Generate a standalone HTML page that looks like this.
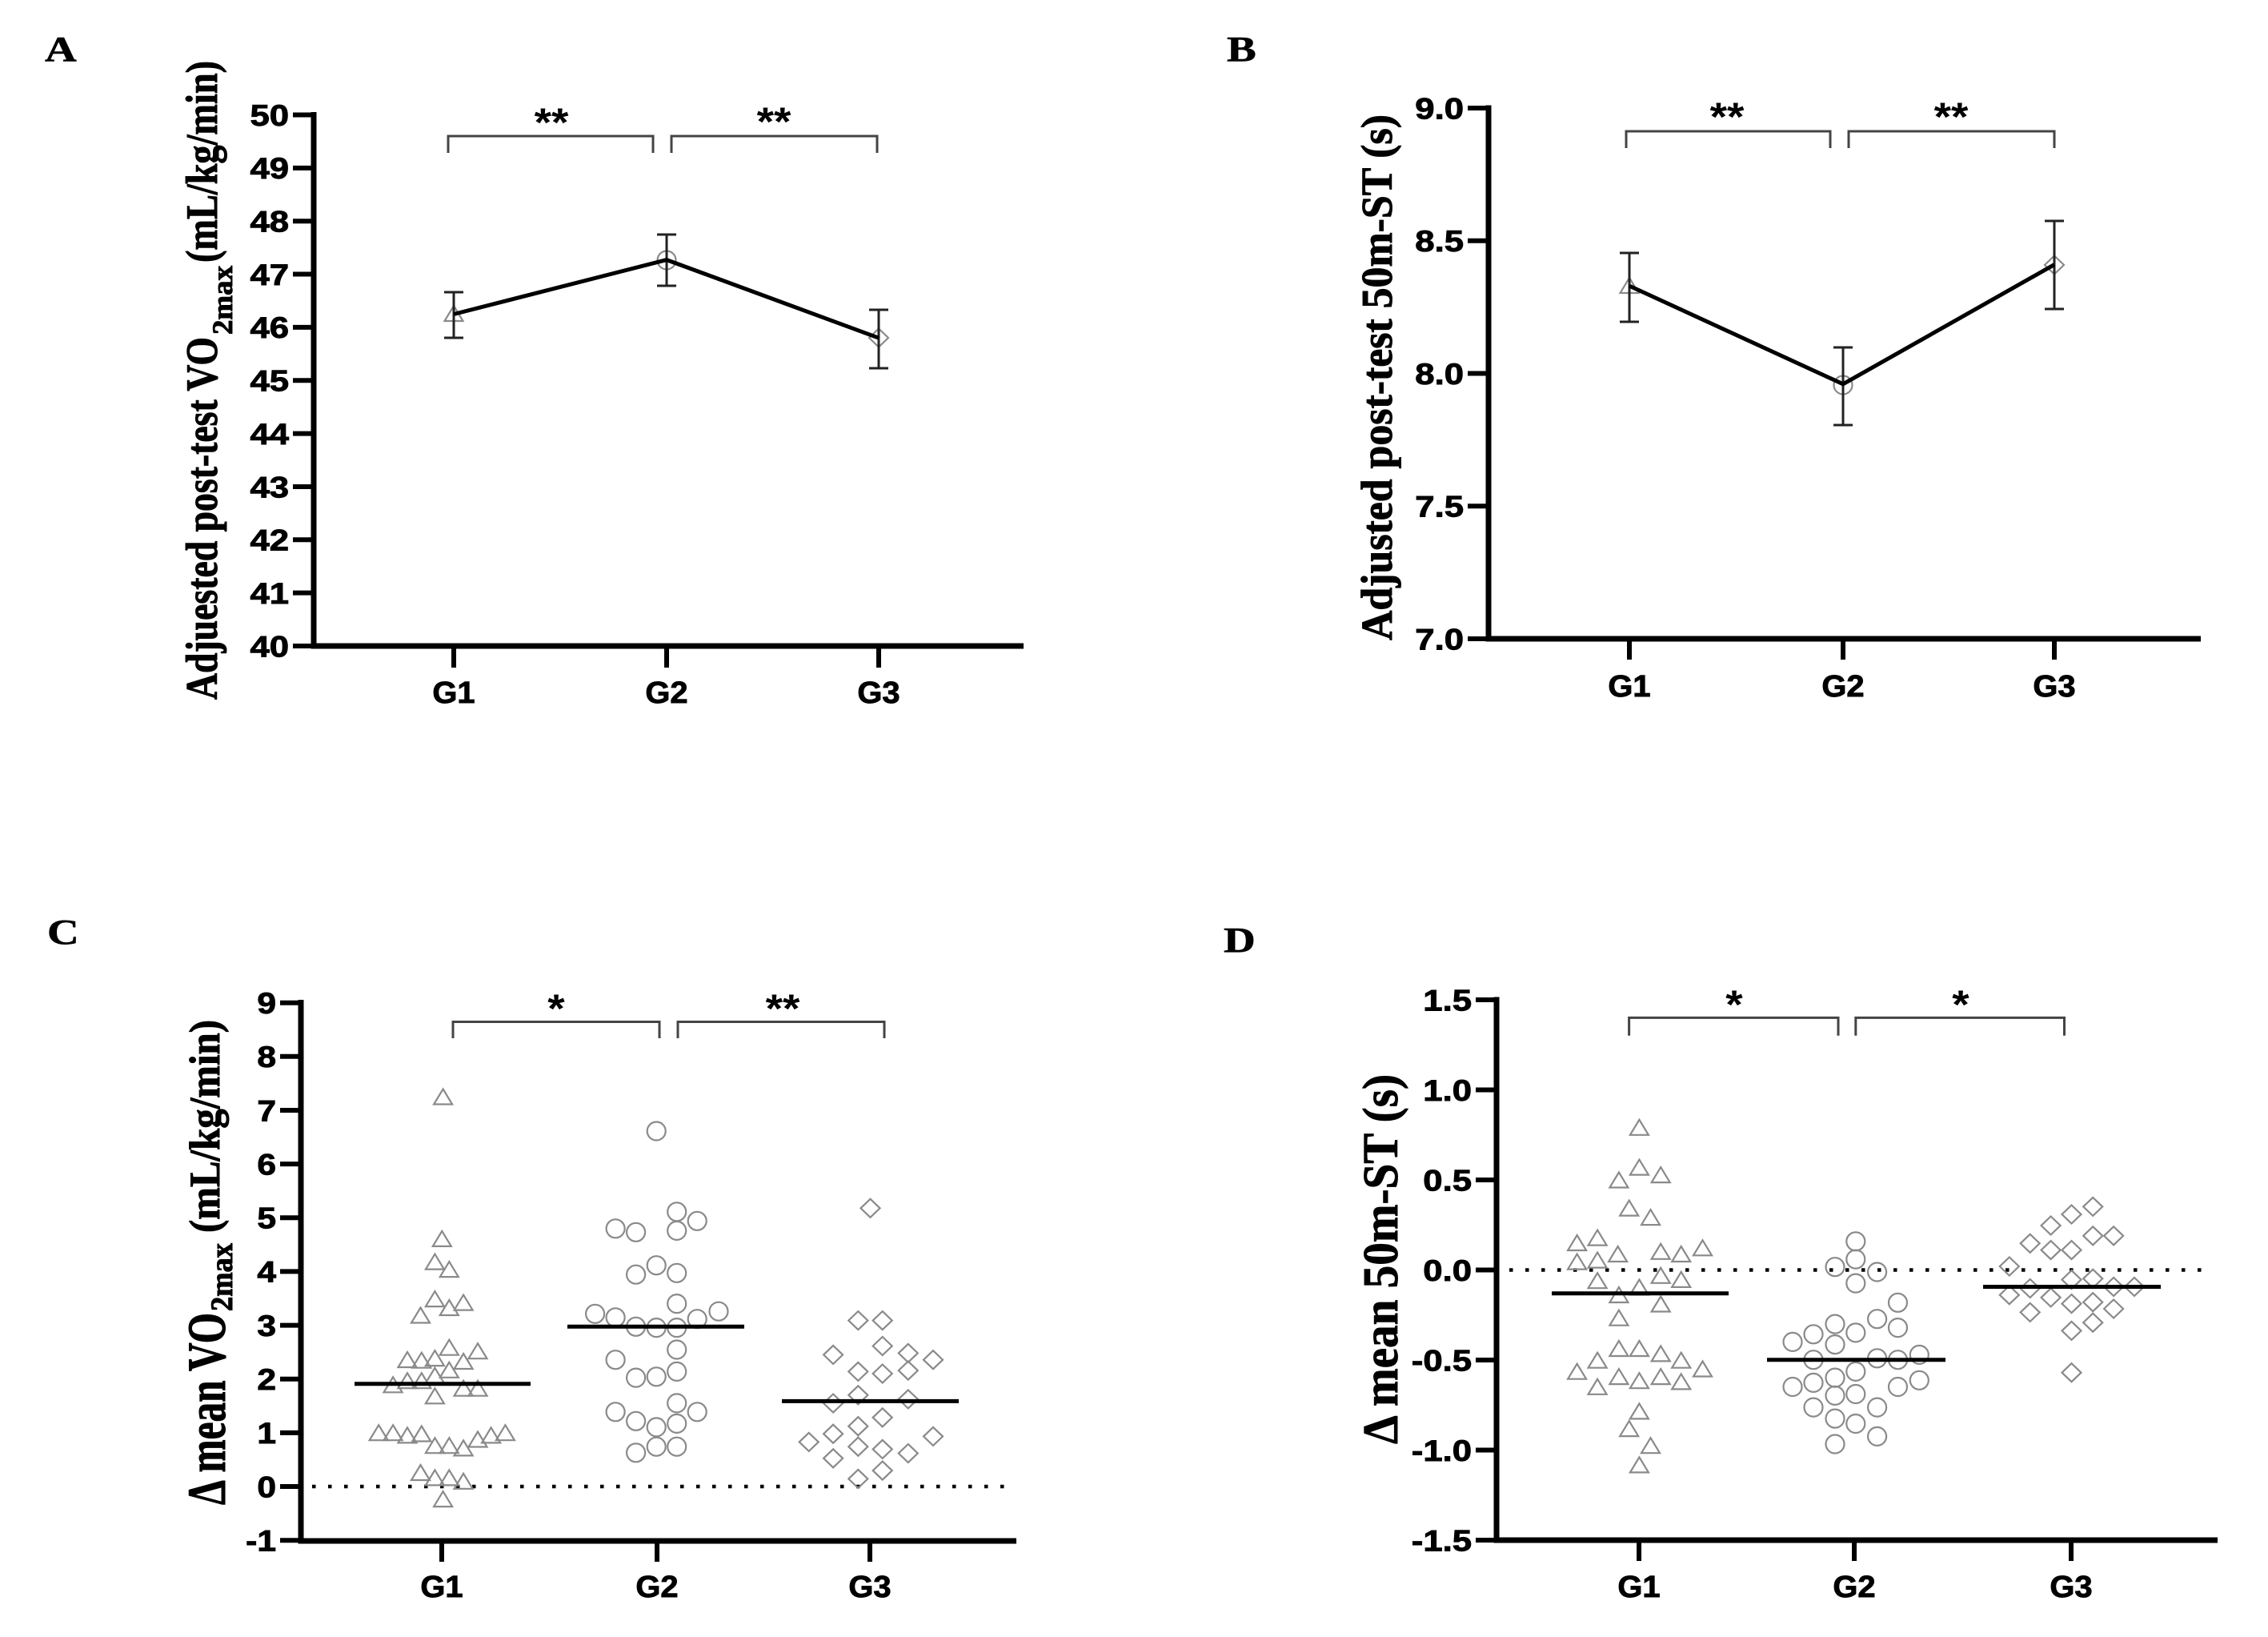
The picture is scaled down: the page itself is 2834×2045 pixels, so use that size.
<!DOCTYPE html>
<html>
<head>
<meta charset="utf-8">
<style>
html,body{margin:0;padding:0;background:#fff;}
svg{display:block;}
.tk{font-family:"Liberation Sans",Arial,sans-serif;font-weight:bold;font-size:37px;fill:#000;stroke:#000;stroke-width:0.9;}
.gl{font-family:"Liberation Sans",Arial,sans-serif;font-weight:bold;font-size:38px;fill:#000;stroke:#000;stroke-width:0.9;}
.st{font-family:"Liberation Sans",Arial,sans-serif;font-weight:bold;font-size:50px;fill:#000;}
.ttl{font-family:"Liberation Serif","Times New Roman",serif;font-weight:bold;fill:#000;stroke:#000;stroke-width:0.8;}
.pl{font-family:"Liberation Serif","Times New Roman",serif;font-weight:bold;font-size:44px;fill:#000;stroke:#000;stroke-width:0.6;}
.ax{stroke:#000;stroke-width:7;fill:none;}
.br{stroke:#444;stroke-width:3;fill:none;}
.mk{fill:none;stroke:#8a8a8a;stroke-width:2.2;}
.mean{stroke:#000;stroke-width:5;}
.dot{stroke:#000;stroke-width:4.5;stroke-dasharray:4.5 15.5;}
.eb{stroke:#222;stroke-width:3;fill:none;}
</style>
</head>
<body>
<svg width="2834" height="2045" viewBox="0 0 2834 2045" xmlns="http://www.w3.org/2000/svg">
<defs>
<path id="tri" d="M0,-11 L11.5,8 L-11.5,8 Z"/>
<circle id="cir" cx="0" cy="0" r="11.5"/>
<path id="dia" d="M0,-11.5 L12,0 L0,11.5 L-12,0 Z"/>
</defs>
<rect width="2834" height="2045" fill="#fff"/>

<!-- Panel labels -->
<text class="pl" transform="translate(56,76) scale(1.25,1)">A</text>
<text class="pl" transform="translate(1533,76) scale(1.25,1)">B</text>
<text class="pl" transform="translate(59,1179) scale(1.25,1)">C</text>
<text class="pl" transform="translate(1529,1189) scale(1.25,1)">D</text>

<!-- ================= PANEL A ================= -->
<g>
<line class="ax" x1="392" y1="140" x2="392" y2="810.5"/>
<line class="ax" x1="388.5" y1="807" x2="1279" y2="807"/>
<g class="ax" style="stroke-width:6">
<line x1="366" y1="807" x2="392" y2="807"/>
<line x1="366" y1="740.65" x2="392" y2="740.65"/>
<line x1="366" y1="674.3" x2="392" y2="674.3"/>
<line x1="366" y1="607.95" x2="392" y2="607.95"/>
<line x1="366" y1="541.6" x2="392" y2="541.6"/>
<line x1="366" y1="475.25" x2="392" y2="475.25"/>
<line x1="366" y1="408.9" x2="392" y2="408.9"/>
<line x1="366" y1="342.55" x2="392" y2="342.55"/>
<line x1="366" y1="276.2" x2="392" y2="276.2"/>
<line x1="366" y1="209.85" x2="392" y2="209.85"/>
<line x1="366" y1="143.5" x2="392" y2="143.5"/>
<line x1="567" y1="807" x2="567" y2="834"/>
<line x1="833" y1="807" x2="833" y2="834"/>
<line x1="1098" y1="807" x2="1098" y2="834"/>
</g>
<g class="tk" text-anchor="end">
<text transform="translate(361,807) scale(1.18,1)" dy="0.36em">40</text>
<text transform="translate(361,740.65) scale(1.18,1)" dy="0.36em">41</text>
<text transform="translate(361,674.3) scale(1.18,1)" dy="0.36em">42</text>
<text transform="translate(361,607.95) scale(1.18,1)" dy="0.36em">43</text>
<text transform="translate(361,541.6) scale(1.18,1)" dy="0.36em">44</text>
<text transform="translate(361,475.25) scale(1.18,1)" dy="0.36em">45</text>
<text transform="translate(361,408.9) scale(1.18,1)" dy="0.36em">46</text>
<text transform="translate(361,342.55) scale(1.18,1)" dy="0.36em">47</text>
<text transform="translate(361,276.2) scale(1.18,1)" dy="0.36em">48</text>
<text transform="translate(361,209.85) scale(1.18,1)" dy="0.36em">49</text>
<text transform="translate(361,143.5) scale(1.18,1)" dy="0.36em">50</text>
</g>
<g class="gl" text-anchor="middle">
<text transform="translate(567,878) scale(1.05,1)">G1</text>
<text transform="translate(833,878) scale(1.05,1)">G2</text>
<text transform="translate(1098,878) scale(1.05,1)">G3</text>
</g>
<text class="ttl" font-size="46" transform="translate(271,874) scale(1.22,1) rotate(-90)" textLength="453" lengthAdjust="spacingAndGlyphs">Adjuested post-test VO</text>
<text class="ttl" font-size="30" transform="translate(290,418) scale(1.2,1) rotate(-90)" textLength="86" lengthAdjust="spacingAndGlyphs">2max</text>
<text class="ttl" font-size="46" transform="translate(271,328) scale(1.22,1) rotate(-90)" textLength="252" lengthAdjust="spacingAndGlyphs">(mL/kg/min)</text>
<path class="br" d="M560,191 V170 H816 V191"/>
<path class="br" d="M839,191 V170 H1096 V191"/>
<text class="st" text-anchor="middle" transform="translate(689,170) scale(1.1,1)">**</text>
<text class="st" text-anchor="middle" transform="translate(967,169) scale(1.1,1)">**</text>
<use href="#tri" class="mk" x="567" y="393"/>
<use href="#cir" class="mk" x="833" y="325"/>
<use href="#dia" class="mk" x="1098" y="422"/>
<g class="eb">
<path d="M567,365 V422 M555,365 H579 M555,422 H579"/>
<path d="M833,293 V357 M821,293 H845 M821,357 H845"/>
<path d="M1098,387 V460 M1086,387 H1110 M1086,460 H1110"/>
</g>
<polyline points="567,392.5 833,324.6 1098,422.2" fill="none" stroke="#000" stroke-width="5" stroke-linejoin="round"/>
</g>

<!-- ================= PANEL B ================= -->
<g>
<line class="ax" x1="1860" y1="131.5" x2="1860" y2="801.5"/>
<line class="ax" x1="1856.5" y1="798" x2="2750" y2="798"/>
<g class="ax" style="stroke-width:6">
<line x1="1834" y1="798" x2="1860" y2="798"/>
<line x1="1834" y1="632.25" x2="1860" y2="632.25"/>
<line x1="1834" y1="466.5" x2="1860" y2="466.5"/>
<line x1="1834" y1="300.75" x2="1860" y2="300.75"/>
<line x1="1834" y1="135" x2="1860" y2="135"/>
<line x1="2036" y1="798" x2="2036" y2="824"/>
<line x1="2303" y1="798" x2="2303" y2="824"/>
<line x1="2567" y1="798" x2="2567" y2="824"/>
</g>
<g class="tk" text-anchor="end">
<text transform="translate(1829,798) scale(1.18,1)" dy="0.36em">7.0</text>
<text transform="translate(1829,632.25) scale(1.18,1)" dy="0.36em">7.5</text>
<text transform="translate(1829,466.5) scale(1.18,1)" dy="0.36em">8.0</text>
<text transform="translate(1829,300.75) scale(1.18,1)" dy="0.36em">8.5</text>
<text transform="translate(1829,135) scale(1.18,1)" dy="0.36em">9.0</text>
</g>
<g class="gl" text-anchor="middle">
<text transform="translate(2036,870) scale(1.05,1)">G1</text>
<text transform="translate(2303,870) scale(1.05,1)">G2</text>
<text transform="translate(2567,870) scale(1.05,1)">G3</text>
</g>
<text class="ttl" font-size="47" transform="translate(1739,800) scale(1.18,1) rotate(-90)" textLength="657" lengthAdjust="spacingAndGlyphs">Adjusted post-test 50m-ST (s)</text>
<path class="br" d="M2032,185 V164 H2287 V185"/>
<path class="br" d="M2310,185 V164 H2567 V185"/>
<text class="st" text-anchor="middle" transform="translate(2158,163) scale(1.1,1)">**</text>
<text class="st" text-anchor="middle" transform="translate(2438,163) scale(1.1,1)">**</text>
<use href="#tri" class="mk" x="2036" y="358"/>
<use href="#cir" class="mk" x="2303" y="481"/>
<use href="#dia" class="mk" x="2567" y="331"/>
<g class="eb">
<path d="M2036,316 V402 M2024,316 H2048 M2024,402 H2048"/>
<path d="M2303,434 V531 M2291,434 H2315 M2291,531 H2315"/>
<path d="M2567,276 V386 M2555,276 H2579 M2555,386 H2579"/>
</g>
<polyline points="2036,357.1 2303,479.8 2567,330.6" fill="none" stroke="#000" stroke-width="5" stroke-linejoin="round"/>
</g>

<!-- ================= PANEL C ================= -->
<g>
<line class="ax" x1="376" y1="1249" x2="376" y2="1928.5"/>
<line class="ax" x1="372.5" y1="1925" x2="1270" y2="1925"/>
<g class="ax" style="stroke-width:6">
<line x1="350" y1="1924.2" x2="376" y2="1924.2"/>
<line x1="350" y1="1857" x2="376" y2="1857"/>
<line x1="350" y1="1789.9" x2="376" y2="1789.9"/>
<line x1="350" y1="1722.7" x2="376" y2="1722.7"/>
<line x1="350" y1="1655.6" x2="376" y2="1655.6"/>
<line x1="350" y1="1588.4" x2="376" y2="1588.4"/>
<line x1="350" y1="1521.3" x2="376" y2="1521.3"/>
<line x1="350" y1="1454.1" x2="376" y2="1454.1"/>
<line x1="350" y1="1387" x2="376" y2="1387"/>
<line x1="350" y1="1319.8" x2="376" y2="1319.8"/>
<line x1="350" y1="1252.7" x2="376" y2="1252.7"/>
<line x1="552" y1="1925" x2="552" y2="1951"/>
<line x1="821" y1="1925" x2="821" y2="1951"/>
<line x1="1087" y1="1925" x2="1087" y2="1951"/>
</g>
<g class="tk" text-anchor="end">
<text transform="translate(345,1924.2) scale(1.15,1)" dy="0.36em">-1</text>
<text transform="translate(345,1857) scale(1.15,1)" dy="0.36em">0</text>
<text transform="translate(345,1789.9) scale(1.15,1)" dy="0.36em">1</text>
<text transform="translate(345,1722.7) scale(1.15,1)" dy="0.36em">2</text>
<text transform="translate(345,1655.6) scale(1.15,1)" dy="0.36em">3</text>
<text transform="translate(345,1588.4) scale(1.15,1)" dy="0.36em">4</text>
<text transform="translate(345,1521.3) scale(1.15,1)" dy="0.36em">5</text>
<text transform="translate(345,1454.1) scale(1.15,1)" dy="0.36em">6</text>
<text transform="translate(345,1387) scale(1.15,1)" dy="0.36em">7</text>
<text transform="translate(345,1319.8) scale(1.15,1)" dy="0.36em">8</text>
<text transform="translate(345,1252.7) scale(1.15,1)" dy="0.36em">9</text>
</g>
<g class="gl" text-anchor="middle">
<text transform="translate(552,1995) scale(1.05,1)">G1</text>
<text transform="translate(821,1995) scale(1.05,1)">G2</text>
<text transform="translate(1087,1995) scale(1.05,1)">G3</text>
</g>
<text class="ttl" font-size="52" transform="translate(281,1880) scale(1.3,1) rotate(-90)" textLength="240" lengthAdjust="spacingAndGlyphs">Δ mean VO</text>
<text class="ttl" font-size="30" transform="translate(290,1638) scale(1.3,1) rotate(-90)" textLength="85" lengthAdjust="spacingAndGlyphs">2max</text>
<text class="ttl" font-size="44" transform="translate(274,1540) scale(1.22,1) rotate(-90)" textLength="266" lengthAdjust="spacingAndGlyphs">(mL/kg/min)</text>
<line class="dot" x1="390" y1="1857" x2="1262" y2="1857"/>
<path class="br" d="M566,1297 V1276.5 H824 V1297"/>
<path class="br" d="M847,1297 V1276.5 H1105 V1297"/>
<text class="st" text-anchor="middle" transform="translate(695,1277) scale(1.1,1)">*</text>
<text class="st" text-anchor="middle" transform="translate(978,1277) scale(1.1,1)">**</text>
<g class="mk">
<use href="#tri" x="553.6" y="1371.5"/>
<use href="#tri" x="552.3" y="1548.9"/>
<use href="#tri" x="543.4" y="1577.6"/>
<use href="#tri" x="561.3" y="1587.1"/>
<use href="#tri" x="543.4" y="1624.1"/>
<use href="#tri" x="561.3" y="1635"/>
<use href="#tri" x="579.1" y="1628.6"/>
<use href="#tri" x="525.5" y="1644.5"/>
<use href="#tri" x="561.3" y="1684.7"/>
<use href="#tri" x="597" y="1689.2"/>
<use href="#tri" x="509" y="1700"/>
<use href="#tri" x="526.8" y="1700.7"/>
<use href="#tri" x="543.4" y="1698.1"/>
<use href="#tri" x="579.1" y="1702"/>
<use href="#tri" x="561.3" y="1712.8"/>
<use href="#tri" x="491.1" y="1731.3"/>
<use href="#tri" x="509" y="1726.2"/>
<use href="#tri" x="526.8" y="1726.2"/>
<use href="#tri" x="543.4" y="1719.8"/>
<use href="#tri" x="543.4" y="1745.3"/>
<use href="#tri" x="579.1" y="1735.7"/>
<use href="#tri" x="597" y="1735.7"/>
<use href="#tri" x="473.2" y="1791.2"/>
<use href="#tri" x="491.1" y="1791.2"/>
<use href="#tri" x="509" y="1794.4"/>
<use href="#tri" x="526.8" y="1792.5"/>
<use href="#tri" x="543.4" y="1807.2"/>
<use href="#tri" x="561.3" y="1807.2"/>
<use href="#tri" x="579.1" y="1810.4"/>
<use href="#tri" x="597" y="1799.5"/>
<use href="#tri" x="613.6" y="1794.4"/>
<use href="#tri" x="631.4" y="1791.2"/>
<use href="#tri" x="525.5" y="1841"/>
<use href="#tri" x="543.4" y="1847.4"/>
<use href="#tri" x="561.3" y="1847.4"/>
<use href="#tri" x="579.1" y="1851.8"/>
<use href="#tri" x="553.6" y="1874.1"/>

<use href="#cir" x="820.2" y="1413"/>
<use href="#cir" x="769.1" y="1534.8"/>
<use href="#cir" x="794.6" y="1539.3"/>
<use href="#cir" x="845.7" y="1513.8"/>
<use href="#cir" x="871.2" y="1525.3"/>
<use href="#cir" x="845.7" y="1537.4"/>
<use href="#cir" x="794.6" y="1592.2"/>
<use href="#cir" x="820.2" y="1580.7"/>
<use href="#cir" x="845.7" y="1590.3"/>
<use href="#cir" x="845.7" y="1628.6"/>
<use href="#cir" x="743.6" y="1641.3"/>
<use href="#cir" x="769.1" y="1645.8"/>
<use href="#cir" x="794.6" y="1657.3"/>
<use href="#cir" x="820.2" y="1658.6"/>
<use href="#cir" x="845.7" y="1658.6"/>
<use href="#cir" x="871.2" y="1647.7"/>
<use href="#cir" x="898" y="1638.2"/>
<use href="#cir" x="845.7" y="1686"/>
<use href="#cir" x="769.1" y="1698.7"/>
<use href="#cir" x="845.7" y="1713.4"/>
<use href="#cir" x="794.6" y="1721.1"/>
<use href="#cir" x="820.2" y="1719.8"/>
<use href="#cir" x="845.7" y="1752.9"/>
<use href="#cir" x="769.1" y="1763.8"/>
<use href="#cir" x="871.2" y="1763.8"/>
<use href="#cir" x="794.6" y="1775.3"/>
<use href="#cir" x="820.2" y="1782.9"/>
<use href="#cir" x="845.7" y="1778.4"/>
<use href="#cir" x="794.6" y="1814.8"/>
<use href="#cir" x="820.2" y="1807.2"/>
<use href="#cir" x="845.7" y="1807.2"/>

<use href="#dia" x="1087.5" y="1509.3"/>
<use href="#dia" x="1072.3" y="1649.6"/>
<use href="#dia" x="1102.7" y="1649.6"/>
<use href="#dia" x="1102.7" y="1681.5"/>
<use href="#dia" x="1041.1" y="1692.4"/>
<use href="#dia" x="1134.8" y="1690.4"/>
<use href="#dia" x="1166" y="1698.7"/>
<use href="#dia" x="1072.3" y="1713.4"/>
<use href="#dia" x="1102.7" y="1716"/>
<use href="#dia" x="1134.8" y="1712.1"/>
<use href="#dia" x="1041.1" y="1753"/>
<use href="#dia" x="1072.3" y="1742.8"/>
<use href="#dia" x="1134.8" y="1747.9"/>
<use href="#dia" x="1102.7" y="1770.8"/>
<use href="#dia" x="1072.3" y="1781.7"/>
<use href="#dia" x="1041.1" y="1791.2"/>
<use href="#dia" x="1166" y="1794.4"/>
<use href="#dia" x="1010.7" y="1801.4"/>
<use href="#dia" x="1072.3" y="1807.2"/>
<use href="#dia" x="1102.7" y="1810.4"/>
<use href="#dia" x="1134.8" y="1815.5"/>
<use href="#dia" x="1041.1" y="1821.8"/>
<use href="#dia" x="1102.7" y="1837.1"/>
<use href="#dia" x="1072.3" y="1847.4"/>
</g>
<line class="mean" x1="443" y1="1728.7" x2="663" y2="1728.7"/>
<line class="mean" x1="709" y1="1657.3" x2="930" y2="1657.3"/>
<line class="mean" x1="977" y1="1750.4" x2="1198" y2="1750.4"/>
</g>

<!-- ================= PANEL D ================= -->
<g>
<line class="ax" x1="1870" y1="1245.5" x2="1870" y2="1927.5"/>
<line class="ax" x1="1866.5" y1="1924" x2="2771" y2="1924"/>
<g class="ax" style="stroke-width:6">
<line x1="1844" y1="1924" x2="1870" y2="1924"/>
<line x1="1844" y1="1811.5" x2="1870" y2="1811.5"/>
<line x1="1844" y1="1699" x2="1870" y2="1699"/>
<line x1="1844" y1="1586.5" x2="1870" y2="1586.5"/>
<line x1="1844" y1="1474" x2="1870" y2="1474"/>
<line x1="1844" y1="1361.5" x2="1870" y2="1361.5"/>
<line x1="1844" y1="1249" x2="1870" y2="1249"/>
<line x1="2048" y1="1924" x2="2048" y2="1950"/>
<line x1="2317" y1="1924" x2="2317" y2="1950"/>
<line x1="2588" y1="1924" x2="2588" y2="1950"/>
</g>
<g class="tk" text-anchor="end">
<text transform="translate(1839,1924) scale(1.18,1)" dy="0.36em">-1.5</text>
<text transform="translate(1839,1811.5) scale(1.18,1)" dy="0.36em">-1.0</text>
<text transform="translate(1839,1699) scale(1.18,1)" dy="0.36em">-0.5</text>
<text transform="translate(1839,1586.5) scale(1.18,1)" dy="0.36em">0.0</text>
<text transform="translate(1839,1474) scale(1.18,1)" dy="0.36em">0.5</text>
<text transform="translate(1839,1361.5) scale(1.18,1)" dy="0.36em">1.0</text>
<text transform="translate(1839,1249) scale(1.18,1)" dy="0.36em">1.5</text>
</g>
<g class="gl" text-anchor="middle">
<text transform="translate(2048,1995) scale(1.05,1)">G1</text>
<text transform="translate(2317,1995) scale(1.05,1)">G2</text>
<text transform="translate(2588,1995) scale(1.05,1)">G3</text>
</g>
<text class="ttl" font-size="54" transform="translate(1746,1804) scale(1.15,1) rotate(-90)" textLength="462" lengthAdjust="spacingAndGlyphs">Δ mean 50m-ST (s)</text>
<line class="dot" x1="1886" y1="1586.5" x2="2765" y2="1586.5"/>
<path class="br" d="M2035.6,1293.7 V1271.4 H2297 V1293.7"/>
<path class="br" d="M2318.8,1293.7 V1271.4 H2579.5 V1293.7"/>
<text class="st" text-anchor="middle" transform="translate(2167,1272) scale(1.1,1)">*</text>
<text class="st" text-anchor="middle" transform="translate(2450,1272) scale(1.1,1)">*</text>
<g class="mk">
<use href="#tri" x="2048.4" y="1409.8"/>
<use href="#tri" x="2048.4" y="1459.6"/>
<use href="#tri" x="2022.9" y="1475.5"/>
<use href="#tri" x="2075.2" y="1469.1"/>
<use href="#tri" x="2035.7" y="1510.6"/>
<use href="#tri" x="2062.5" y="1522.1"/>
<use href="#tri" x="1970.6" y="1554"/>
<use href="#tri" x="1996.1" y="1547.6"/>
<use href="#tri" x="2021.6" y="1568"/>
<use href="#tri" x="2075.2" y="1564.8"/>
<use href="#tri" x="2100.7" y="1568"/>
<use href="#tri" x="2127.5" y="1560.3"/>
<use href="#tri" x="1970.6" y="1577.6"/>
<use href="#tri" x="1996.1" y="1575.6"/>
<use href="#tri" x="1996.1" y="1601.2"/>
<use href="#tri" x="2075.2" y="1594.8"/>
<use href="#tri" x="2100.7" y="1599.9"/>
<use href="#tri" x="2048.4" y="1609.5"/>
<use href="#tri" x="2022.9" y="1619"/>
<use href="#tri" x="2075.2" y="1630.5"/>
<use href="#tri" x="2022.9" y="1647.7"/>
<use href="#tri" x="2022.9" y="1686"/>
<use href="#tri" x="2048.4" y="1686"/>
<use href="#tri" x="2075.2" y="1692.4"/>
<use href="#tri" x="1996.1" y="1700.7"/>
<use href="#tri" x="2100.7" y="1700.7"/>
<use href="#tri" x="1970.6" y="1714.7"/>
<use href="#tri" x="2127.5" y="1711.5"/>
<use href="#tri" x="2022.9" y="1721.1"/>
<use href="#tri" x="2048.4" y="1726.2"/>
<use href="#tri" x="2075.2" y="1721.1"/>
<use href="#tri" x="2100.7" y="1727.4"/>
<use href="#tri" x="1996.1" y="1733.8"/>
<use href="#tri" x="2048.4" y="1764.4"/>
<use href="#tri" x="2035.7" y="1786.1"/>
<use href="#tri" x="2062.5" y="1807.2"/>
<use href="#tri" x="2048.4" y="1831.4"/>

<use href="#cir" x="2318.8" y="1550.8"/>
<use href="#cir" x="2293" y="1582.7"/>
<use href="#cir" x="2318.8" y="1573.1"/>
<use href="#cir" x="2345.6" y="1589"/>
<use href="#cir" x="2318.8" y="1603.1"/>
<use href="#cir" x="2371.5" y="1627.3"/>
<use href="#cir" x="2345.6" y="1647.7"/>
<use href="#cir" x="2293" y="1654.1"/>
<use href="#cir" x="2371.5" y="1658.6"/>
<use href="#cir" x="2266" y="1666.8"/>
<use href="#cir" x="2318.8" y="1664.9"/>
<use href="#cir" x="2240" y="1676.4"/>
<use href="#cir" x="2293" y="1679.6"/>
<use href="#cir" x="2266" y="1698.7"/>
<use href="#cir" x="2345.6" y="1696.8"/>
<use href="#cir" x="2371.5" y="1698.7"/>
<use href="#cir" x="2398.3" y="1692.4"/>
<use href="#cir" x="2318.8" y="1713.4"/>
<use href="#cir" x="2293" y="1721.1"/>
<use href="#cir" x="2398.3" y="1724.3"/>
<use href="#cir" x="2240" y="1732.5"/>
<use href="#cir" x="2266" y="1727.4"/>
<use href="#cir" x="2371.5" y="1732.5"/>
<use href="#cir" x="2293" y="1743.4"/>
<use href="#cir" x="2318.8" y="1741.5"/>
<use href="#cir" x="2266" y="1758.1"/>
<use href="#cir" x="2345.6" y="1758.1"/>
<use href="#cir" x="2293" y="1772.1"/>
<use href="#cir" x="2318.8" y="1778.5"/>
<use href="#cir" x="2345.6" y="1794.4"/>
<use href="#cir" x="2293" y="1804"/>

<use href="#dia" x="2615.2" y="1507.4"/>
<use href="#dia" x="2588.5" y="1517"/>
<use href="#dia" x="2562.6" y="1531"/>
<use href="#dia" x="2536.7" y="1553.3"/>
<use href="#dia" x="2615.2" y="1543.8"/>
<use href="#dia" x="2641.1" y="1543.8"/>
<use href="#dia" x="2562.6" y="1561.6"/>
<use href="#dia" x="2588.5" y="1561.6"/>
<use href="#dia" x="2510.8" y="1582"/>
<use href="#dia" x="2588.5" y="1598.6"/>
<use href="#dia" x="2615.2" y="1597.3"/>
<use href="#dia" x="2536.7" y="1609.5"/>
<use href="#dia" x="2641.1" y="1607.5"/>
<use href="#dia" x="2667" y="1607.5"/>
<use href="#dia" x="2510.8" y="1617.7"/>
<use href="#dia" x="2562.6" y="1620.9"/>
<use href="#dia" x="2588.5" y="1628.6"/>
<use href="#dia" x="2615.2" y="1626.7"/>
<use href="#dia" x="2641.1" y="1635"/>
<use href="#dia" x="2536.7" y="1639.4"/>
<use href="#dia" x="2615.2" y="1652.2"/>
<use href="#dia" x="2588.5" y="1662.4"/>
<use href="#dia" x="2588.5" y="1714.7"/>
</g>
<line class="mean" x1="1939" y1="1615.8" x2="2160" y2="1615.8"/>
<line class="mean" x1="2208" y1="1698.7" x2="2431" y2="1698.7"/>
<line class="mean" x1="2478" y1="1607.5" x2="2700" y2="1607.5"/>
</g>
</svg>
</body>
</html>
